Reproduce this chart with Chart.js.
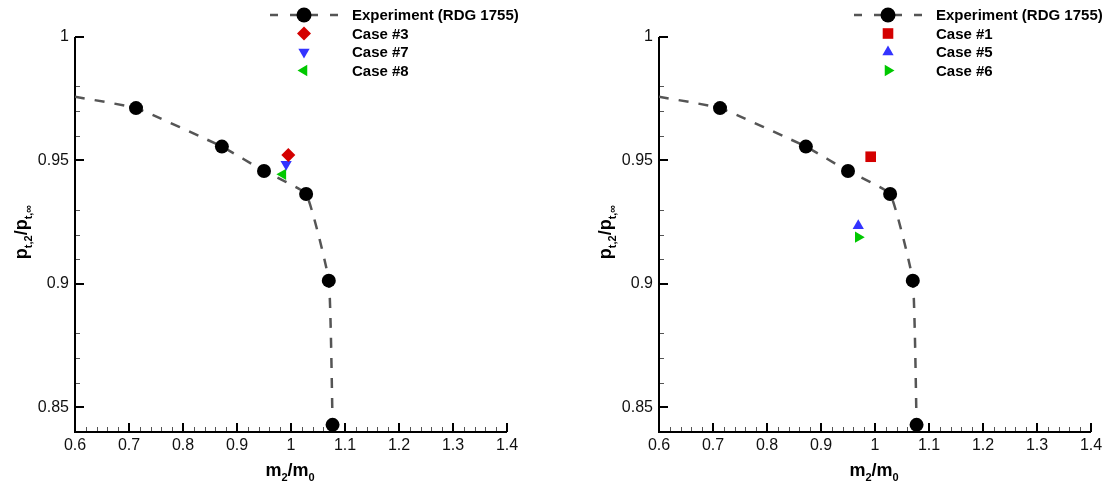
<!DOCTYPE html>
<html>
<head>
<meta charset="utf-8">
<title>Total pressure recovery vs mass flow ratio</title>
<script src="https://cdn.jsdelivr.net/npm/chart.js@4.4.1/dist/chart.umd.min.js"></script>
<style>
  html, body { margin: 0; padding: 0; background: #fff; overflow: hidden; }
  #wrap { position: relative; width: 1109px; height: 486px; }
  .panel { position: absolute; top: 0; width: 525px; height: 486px; }
</style>
</head>
<body>
<div id="wrap">
  <div class="panel" style="left:0"><canvas id="leftChart" width="525" height="486"></canvas></div>
  <div class="panel" style="left:584px"><canvas id="rightChart" width="525" height="486"></canvas></div>
</div>
<script>
// experiment (RDG 1755)
const expX = [0.713, 0.872, 0.950, 1.028, 1.070, 1.077];
const expY = [0.9712, 0.9556, 0.9457, 0.9364, 0.9013, 0.8429];
// dashed fit through the experiment, starting at the y axis
const curveX = [0.600, 0.713, 0.872, 0.950, 1.028, 1.070, 1.077];
const curveY = [0.9758, 0.9712, 0.9556, 0.9457, 0.9364, 0.9013, 0.8429];

// CFD cases, [m2/m0, pt2/pt0]
const case3 = [0.995, 0.9522];
const case7 = [0.991, 0.9485];
const case8 = [0.985, 0.9444];
const case1 = [0.992, 0.9515];
const case5 = [0.969, 0.9235];
const case6 = [0.969, 0.9189];

const xTicks = [0.6, 0.7, 0.8, 0.9, 1.0, 1.1, 1.2, 1.3, 1.4];
const yTicks = [0.85, 0.90, 0.95, 1.0];

const FONT = '"Liberation Sans", Arial, Helvetica, sans-serif';
const RED = '#d40000', BLUE = '#3333ff', GREEN = '#00c800';

function pts(xs, ys) {
  return xs.map((x, i) => ({ x, y: ys[i] }));
}

function fmt(v) {
  return String(+v.toFixed(2));
}

// draw a marker by hand for the legend
function marker(ctx, style, x, y, r, rot, color) {
  ctx.save();
  ctx.translate(x, y);
  ctx.rotate((rot || 0) * Math.PI / 180);
  ctx.fillStyle = color;
  ctx.beginPath();
  if (style === 'circle') {
    ctx.arc(0, 0, r, 0, Math.PI * 2);
  } else if (style === 'rectRot') {
    ctx.moveTo(0, -r); ctx.lineTo(r, 0); ctx.lineTo(0, r); ctx.lineTo(-r, 0);
  } else if (style === 'rect') {
    const s = r * Math.SQRT1_2;
    ctx.rect(-s, -s, 2 * s, 2 * s);
  } else if (style === 'triangle') {
    for (let k = 0; k < 3; k++) {
      const a = k * 2 * Math.PI / 3;
      const px = Math.sin(a) * r, py = -Math.cos(a) * r;
      if (k === 0) ctx.moveTo(px, py); else ctx.lineTo(px, py);
    }
  }
  ctx.closePath();
  ctx.fill();
  ctx.restore();
}

// text with subscripts: parts = [[text, isSub], ...], centered on x
function richText(ctx, parts, x, y) {
  const main = 'bold 18px ' + FONT, sub = 'bold 11px ' + FONT;
  let w = 0;
  parts.forEach(p => { ctx.font = p[1] ? sub : main; w += ctx.measureText(p[0]).width; });
  let cx = x - w / 2;
  ctx.textAlign = 'left';
  ctx.textBaseline = 'alphabetic';
  parts.forEach(p => {
    ctx.font = p[1] ? sub : main;
    ctx.fillText(p[0], cx, p[1] ? y + 5 : y);
    cx += ctx.measureText(p[0]).width;
  });
}

const axesPlugin = {
  id: 'axesPlugin',
  beforeDatasetsDraw(chart) {
    const ctx = chart.ctx;
    const sx = chart.scales.x, sy = chart.scales.y;
    const { left, right, top, bottom } = chart.chartArea;
    ctx.save();
    // minor ticks
    ctx.strokeStyle = '#555';
    ctx.lineWidth = 1;
    ctx.beginPath();
    for (let i = 1; i < 16; i++) {
      if (i % 5 === 0) continue;
      const py = Math.round(sy.getPixelForValue(0.84 + i * 0.01)) + 0.5;
      ctx.moveTo(left, py); ctx.lineTo(left + 5, py);
    }
    for (let i = 1; i < 40; i++) {
      if (i % 5 === 0) continue;
      const px = Math.round(sx.getPixelForValue(0.6 + i * 0.02)) + 0.5;
      ctx.moveTo(px, bottom); ctx.lineTo(px, bottom - 5);
    }
    ctx.stroke();
    // major ticks
    ctx.strokeStyle = '#000';
    ctx.lineWidth = 2;
    ctx.beginPath();
    yTicks.forEach(v => {
      const py = Math.round(sy.getPixelForValue(v));
      ctx.moveTo(left, py); ctx.lineTo(left + 9, py);
    });
    xTicks.forEach(v => {
      const px = Math.round(sx.getPixelForValue(v));
      ctx.moveTo(px, bottom); ctx.lineTo(px, bottom - 9);
    });
    ctx.stroke();
    // axis lines
    ctx.beginPath();
    ctx.moveTo(left, top);
    ctx.lineTo(left, bottom);
    ctx.lineTo(right, bottom);
    ctx.stroke();
    ctx.restore();
  },
  afterDraw(chart) {
    const ctx = chart.ctx;
    ctx.save();
    ctx.fillStyle = '#000';
    richText(ctx, [['m', false], ['2', true], ['/m', false], ['0', true]], 290, 476);
    ctx.translate(27, 232);
    ctx.rotate(-Math.PI / 2);
    richText(ctx, [['p', false], ['t,2', true], ['/p', false], ['t,\u221e', true]], 0, 0);
    ctx.restore();
  }
};

const legendPlugin = {
  id: 'legendPlugin',
  afterDraw(chart, args, opts) {
    const ctx = chart.ctx;
    const rowY = [15, 33.5, 52, 70.5];
    ctx.save();
    // experiment sample: dashed line with a circle on it
    ctx.strokeStyle = '#555';
    ctx.lineWidth = 2.5;
    ctx.setLineDash([8, 12]);
    ctx.beginPath();
    ctx.moveTo(270, rowY[0]); ctx.lineTo(338, rowY[0]);
    ctx.stroke();
    ctx.setLineDash([]);
    marker(ctx, 'circle', 304, rowY[0], 7.5, 0, '#000');
    ctx.font = 'bold 15px ' + FONT;
    ctx.fillStyle = '#000';
    ctx.textAlign = 'left';
    ctx.textBaseline = 'middle';
    ctx.fillText('Experiment (RDG 1755)', 352, rowY[0] + 1);
    opts.items.forEach((it, i) => {
      marker(ctx, it.style, 304, rowY[i + 1], it.radius, it.rotation, it.color);
      ctx.fillStyle = '#000';
      ctx.fillText(it.label, 352, rowY[i + 1] + 1);
    });
    ctx.restore();
  }
};

function makeChart(id, cases) {
  const datasets = [
    {
      label: 'curve',
      data: pts(curveX, curveY),
      showLine: true,
      borderColor: '#555',
      borderWidth: 2.5,
      borderDash: [10, 10],
      pointRadius: 0,
      tension: 0.12,
      order: 3
    },
    {
      label: 'Experiment (RDG 1755)',
      data: pts(expX, expY),
      pointStyle: 'circle',
      pointRadius: 7,
      backgroundColor: '#000',
      borderColor: '#000',
      borderWidth: 0,
      clip: false,
      order: 2
    }
  ];
  cases.forEach(c => {
    datasets.push({
      label: c.label,
      data: [{ x: c.value[0], y: c.value[1] }],
      pointStyle: c.style,
      pointRadius: c.radius,
      pointRotation: c.rotation,
      backgroundColor: c.color,
      borderColor: c.color,
      borderWidth: 0,
      clip: false,
      order: 1
    });
  });

  return new Chart(document.getElementById(id), {
    type: 'scatter',
    data: { datasets },
    options: {
      responsive: false,
      animation: false,
      events: [],
      layout: { padding: { top: 37, right: 18, left: 0, bottom: 0 } },
      plugins: {
        legend: { display: false },
        tooltip: { enabled: false },
        legendPlugin: { items: cases }
      },
      scales: {
        x: {
          type: 'linear',
          min: 0.6,
          max: 1.4,
          grid: { display: false, drawTicks: false },
          border: { display: false },
          afterBuildTicks: s => { s.ticks = xTicks.map(v => ({ value: v })); },
          afterFit: s => { s.height = 54; },
          ticks: {
            font: { family: FONT, size: 16 },
            color: '#111',
            padding: 4,
            maxRotation: 0,
            autoSkip: false,
            callback: v => fmt(v)
          }
        },
        y: {
          type: 'linear',
          min: 0.84,
          max: 1.0,
          grid: { display: false, drawTicks: false },
          border: { display: false },
          afterBuildTicks: s => { s.ticks = yTicks.map(v => ({ value: v })); },
          afterFit: s => { s.width = 75; },
          ticks: {
            font: { family: FONT, size: 16 },
            color: '#111',
            padding: 6,
            autoSkip: false,
            callback: v => fmt(v)
          }
        }
      }
    },
    plugins: [axesPlugin, legendPlugin]
  });
}

makeChart('leftChart', [
  { label: 'Case #3', value: case3, style: 'rectRot', radius: 7, rotation: 0, color: RED },
  { label: 'Case #7', value: case7, style: 'triangle', radius: 6.5, rotation: 180, color: BLUE },
  { label: 'Case #8', value: case8, style: 'triangle', radius: 6.5, rotation: 270, color: GREEN }
]);

makeChart('rightChart', [
  { label: 'Case #1', value: case1, style: 'rect', radius: 7.5, rotation: 0, color: RED },
  { label: 'Case #5', value: case5, style: 'triangle', radius: 6.5, rotation: 0, color: BLUE },
  { label: 'Case #6', value: case6, style: 'triangle', radius: 6.5, rotation: 90, color: GREEN }
]);
</script>
</body>
</html>
